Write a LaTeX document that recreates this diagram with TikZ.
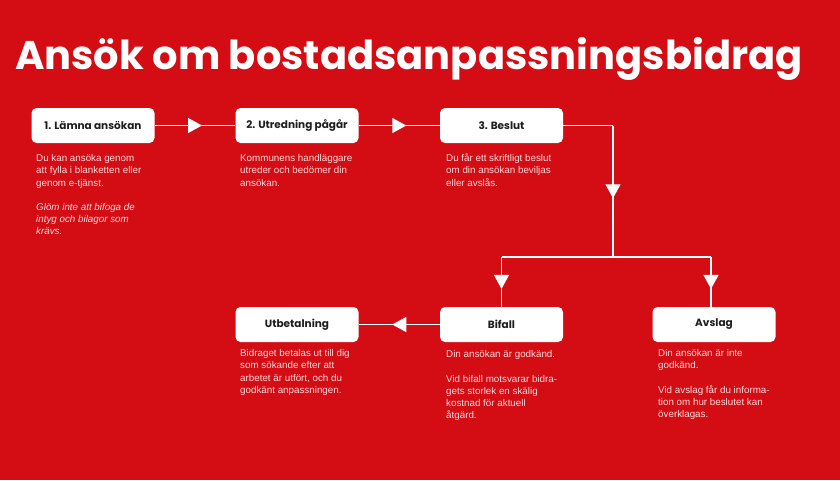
\documentclass[tikz,border=0pt]{standalone}
\usepackage{fontspec}
\setmainfont{Liberation Sans}
\newfontfamily\titlefont{Poppins}
\usetikzlibrary{arrows.meta,decorations.markings}
\definecolor{bgred}{RGB}{212,12,20}
\definecolor{labelc}{RGB}{30,30,30}
\definecolor{descc}{RGB}{252,220,220}
\begin{document}
\begin{tikzpicture}[x=1pt,y=-1pt,
  box/.style={fill=white, rounded corners=5pt, minimum width=123pt, minimum height=35pt, inner sep=0pt,
    font=\titlefont\bfseries\fontsize{10.5}{12}\selectfont, text=labelc},
  desc/.style={anchor=north west, inner sep=0pt, align=left, text=descc, font=\fontsize{9.8}{12.2}\selectfont},
  conn/.style={draw=white, line width=1.3pt},
  midarrow/.style={conn, postaction=decorate, decoration={markings,
    mark=at position 0.5 with {\arrow[white,xshift=7pt]{Triangle[length=14pt,width=15pt]}}}}]
\fill[bgred] (0,0) rectangle (840,480);
\node[anchor=base west, inner sep=0pt, text=white, font=\titlefont\bfseries\fontsize{40}{44}\selectfont] (title) at (15,69) {Ansök om bostadsanpassningsbidrag};

\node[box] (b1) at (93,125.5) {1. Lämna ansökan};
\node[box] (b2) at (297,125.5) {2. Utredning pågår};
\node[box] (b3) at (501.5,125.5) {3. Beslut};
\node[box] (utb) at (297,324.5) {Utbetalning};
\node[box] (bif) at (501.5,324.5) {Bifall};
\node[box] (avs) at (714,324.5) {Avslag};

\node[desc] (t1) at (36,153) {\strut Du kan ansöka genom\\att fylla i blanketten eller\\genom e-tjänst.\\[12.2pt]
\itshape Glöm inte att bifoga de\\\itshape intyg och bilagor som\\\itshape krävs.};
\node[desc] (t2) at (240,153) {\strut Kommunens handläggare\\utreder och bedömer din\\ansökan.};
\node[desc] (t3) at (446,153) {\strut Du får ett skriftligt beslut\\om din ansökan beviljas\\eller avslås.};
\node[desc] (t4) at (240,348) {\strut Bidraget betalas ut till dig\\som sökande efter att\\arbetet är utfört, och du\\godkänt anpassningen.};
\node[desc] (t5) at (446,349) {\strut Din ansökan är godkänd.\\[12.2pt]Vid bifall motsvarar bidra-\\gets storlek en skälig\\kostnad för aktuell\\åtgärd.};
\node[desc] (t6) at (658,348) {\strut Din ansökan är inte\\godkänd.\\[12.2pt]Vid avslag får du informa-\\tion om hur beslutet kan\\överklagas.};

\coordinate (c1) at (613,125.5);
\coordinate (split) at (613,257);
\coordinate (sl) at (501.5,257);
\coordinate (sr) at (711,257);

\draw[midarrow] (b1.east) -- (b2.west);
\draw[midarrow] (b2.east) -- (b3.west);
\draw[conn] (b3.east) -- (c1);
\draw[midarrow] (c1) -- (split);
\draw[conn] (sl) -- (sr);
\draw[midarrow] (sl) -- (bif.north);
\draw[midarrow] (sr) -- (sr |- avs.north);
\draw[midarrow] (bif.west) -- (utb.east);
\end{tikzpicture}
\end{document}
